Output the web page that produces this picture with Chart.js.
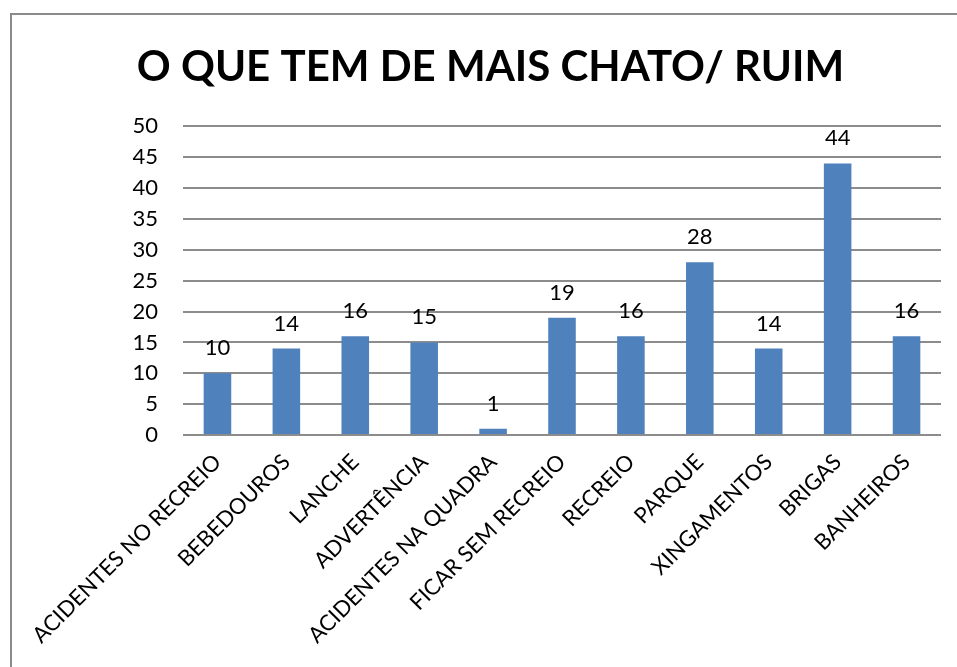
<!DOCTYPE html>
<html>
<head>
<meta charset="utf-8">
<script src="https://cdn.jsdelivr.net/npm/chart.js@4/dist/chart.umd.min.js"></script>
<style>
	html, body { margin: 0; padding: 0; background: #fff; }
	.frame { position: absolute; left: 10px; top: 13px; width: 1000px; height: 700px; border-left: 2px solid #8a8a8a; border-top: 2px solid #8a8a8a; }
	.wrap { position: absolute; left: 0; top: 0; width: 957px; height: 667px; }
</style>
</head>
<body>
<div class="frame"></div>
<div class="wrap"><canvas class="chato-chart"></canvas></div>
<script>
const categories = ['ACIDENTES NO RECREIO', 'BEBEDOUROS', 'LANCHE', 'ADVERTÊNCIA', 'ACIDENTES NA QUADRA', 'FICAR SEM RECREIO', 'RECREIO', 'PARQUE', 'XINGAMENTOS', 'BRIGAS', 'BANHEIROS'];
const votes = [10, 14, 16, 15, 1, 19, 16, 28, 14, 44, 16];
const yTicks = [0, 5, 10, 15, 20, 25, 30, 35, 40, 45, 50];

const fontName = 'Lato, "Open Sans", sans-serif';

// draw the value above every bar
const barValues = {
	id: 'barValues',
	afterDatasetsDraw: function (chart) {
		const ctx = chart.ctx;
		const meta = chart.getDatasetMeta(0);
		ctx.save();
		ctx.font = '22px ' + fontName;
		ctx.fillStyle = '#000';
		ctx.textAlign = 'center';
		ctx.textBaseline = 'alphabetic';
		meta.data.forEach(function (bar, i) {
			ctx.fillText(String(votes[i]), bar.x, bar.y - 18);
		});
		ctx.restore();
	},
};

const createChart = function () {
	const data = {
		labels: categories,
		datasets: [
			{
				label: 'votos',
				data: votes,
				backgroundColor: '#4f81bd',
				borderWidth: 0,
				categoryPercentage: 1,
				barPercentage: 0.4,
			},
		],
	};

	const config = {
		type: 'bar',
		data: data,
		plugins: [barValues],
		options: {
			responsive: false,
			animation: false,
			layout: { padding: { left: 40, right: 16, top: 0, bottom: 0 } },
			plugins: {
				legend: { display: false },
				tooltip: { enabled: false },
				title: {
					display: true,
					text: 'O QUE TEM DE MAIS CHATO/ RUIM',
					color: '#000',
					font: { family: fontName, size: 42, weight: 'bold', lineHeight: 1.2 },
					padding: { top: 42, bottom: 34 },
				},
			},
			scales: {
				y: {
					min: 0,
					max: 50,
					afterBuildTicks: function (scale) {
						scale.ticks = yTicks.map(function (v) { return { value: v }; });
					},
					afterFit: function (scale) { scale.width = 143; },
					grid: { color: '#8c8c8c', lineWidth: 2, drawTicks: false },
					border: { display: false },
					ticks: { color: '#000', padding: 25, font: { family: fontName, size: 22 } },
				},
				x: {
					afterFit: function (scale) { scale.height = 232; },
					grid: { display: false },
					border: { display: false },
					ticks: {
						color: '#000',
						minRotation: 45,
						maxRotation: 45,
						autoSkip: false,
						padding: 6,
						font: { family: fontName, size: 22 },
					},
				},
			},
		},
	};

	const ctx = document.querySelector('.chato-chart');
	ctx.width = 957;
	ctx.height = 667;
	const myChart = new Chart(ctx, config);
};

document.addEventListener('DOMContentLoaded', createChart);
</script>
</body>
</html>
